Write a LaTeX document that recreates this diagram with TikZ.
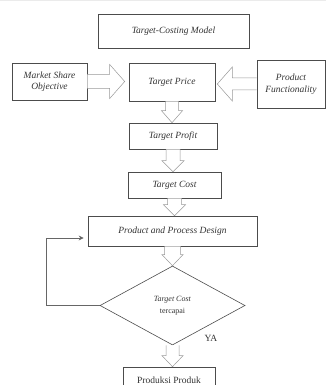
\documentclass[tikz,border=0pt]{standalone}
\usepackage{fontspec}
\setmainfont{Liberation Serif}
\usetikzlibrary{shapes.geometric,calc,arrows.meta}
\newcommand\vblk[5]{% from node, to node, body half, head half, head length
  \draw[blk] let \p1=(#1.south), \p2=(#2.north) in
    (\x1-#3,\y1) -- (\x1-#3,\y2+#5) -- (\x1-#4,\y2+#5) -- (\x1,\y2)
    -- (\x1+#4,\y2+#5) -- (\x1+#3,\y2+#5) -- (\x1+#3,\y1);}
\begin{document}
\begin{tikzpicture}[x=1pt,y=-1pt,
  box/.style={draw=black!70, line width=0.6pt, rectangle, inner sep=1pt, text=black!80,
    align=center, font=\fontsize{9.5}{11.5}\selectfont\itshape},
  blk/.style={draw=black!40, line width=0.5pt, fill=white, line join=miter},
  fb/.style={draw=black!60, line width=0.8pt, -{Stealth[length=5pt,width=5pt]}}]
\useasboundingbox (0,0) rectangle (326,385);
\clip (0,0) rectangle (326,385);
\fill[black!8] (0,0) rectangle (326,1.2);
\node[box, minimum width=151pt, minimum height=34pt] (model) at (173.5,31) {Target-Costing Model};
\node[box, minimum width=75pt, minimum height=37pt] (market) at (49.5,81.5) {Market Share\\Objective};
\node[box, minimum width=86pt, minimum height=38pt] (price) at (172,82) {Target Price};
\node[box, minimum width=68pt, minimum height=48pt] (func) at (291,84) {Product\\Functionality};
\node[box, minimum width=88pt, minimum height=26pt] (profit) at (173,136) {Target Profit};
\node[box, minimum width=93pt, minimum height=26pt] (cost) at (174.5,185) {Target Cost};
\node[box, minimum width=169pt, minimum height=30pt] (design) at (172.5,231) {Product and Process Design};
\node[draw=black!70, line width=0.6pt, diamond, inner sep=0pt, minimum width=145pt, minimum height=79pt,
  align=center, text=black!80, font=\fontsize{8}{12}\selectfont] (dia) at (172.5,305.5) {\textit{Target Cost}\\tercapai};
\node[box, font=\fontsize{9.5}{11.5}\selectfont, minimum width=92pt, minimum height=26pt] (prod) at (169,380) {Produksi Produk};
\node[font=\fontsize{9.5}{11}\selectfont, text=black!80, inner sep=0pt] (ya) at (211,338) {YA};
% horizontal block arrows
\draw[blk] let \p1=(market.east), \p2=(price.west) in
  (\x1,\y1+7pt) -- (\x2-19pt,\y1+7pt) -- (\x2-19pt,\y1+17pt) -- (\x2-4pt,\y1)
  -- (\x2-19pt,\y1-17pt) -- (\x2-19pt,\y1-7pt) -- (\x1,\y1-7pt);
\draw[blk] let \p1=(func.west), \p2=(price.east) in
  (\x1,\y1+6pt) -- (\x2+17pt,\y1+6pt) -- (\x2+17pt,\y1+17pt) -- (\x2+2pt,\y1)
  -- (\x2+17pt,\y1-17pt) -- (\x2+17pt,\y1-6pt) -- (\x1,\y1-6pt);
% vertical block arrows
\vblk{price}{profit}{6.5pt}{10.5pt}{12pt}
\vblk{profit}{cost}{7pt}{11pt}{11pt}
\vblk{cost}{design}{7pt}{11pt}{11pt}
\vblk{design}{dia}{8pt}{10.5pt}{11pt}
\vblk{dia}{prod}{6.5pt}{10.5pt}{11pt}
% feedback loop
\coordinate (fbc) at (46,238);
\coordinate (fbe) at ([xshift=-4pt]design.west);
\draw[fb] (dia.west) -| (fbc) -- (fbe |- fbc);
\end{tikzpicture}
\end{document}
